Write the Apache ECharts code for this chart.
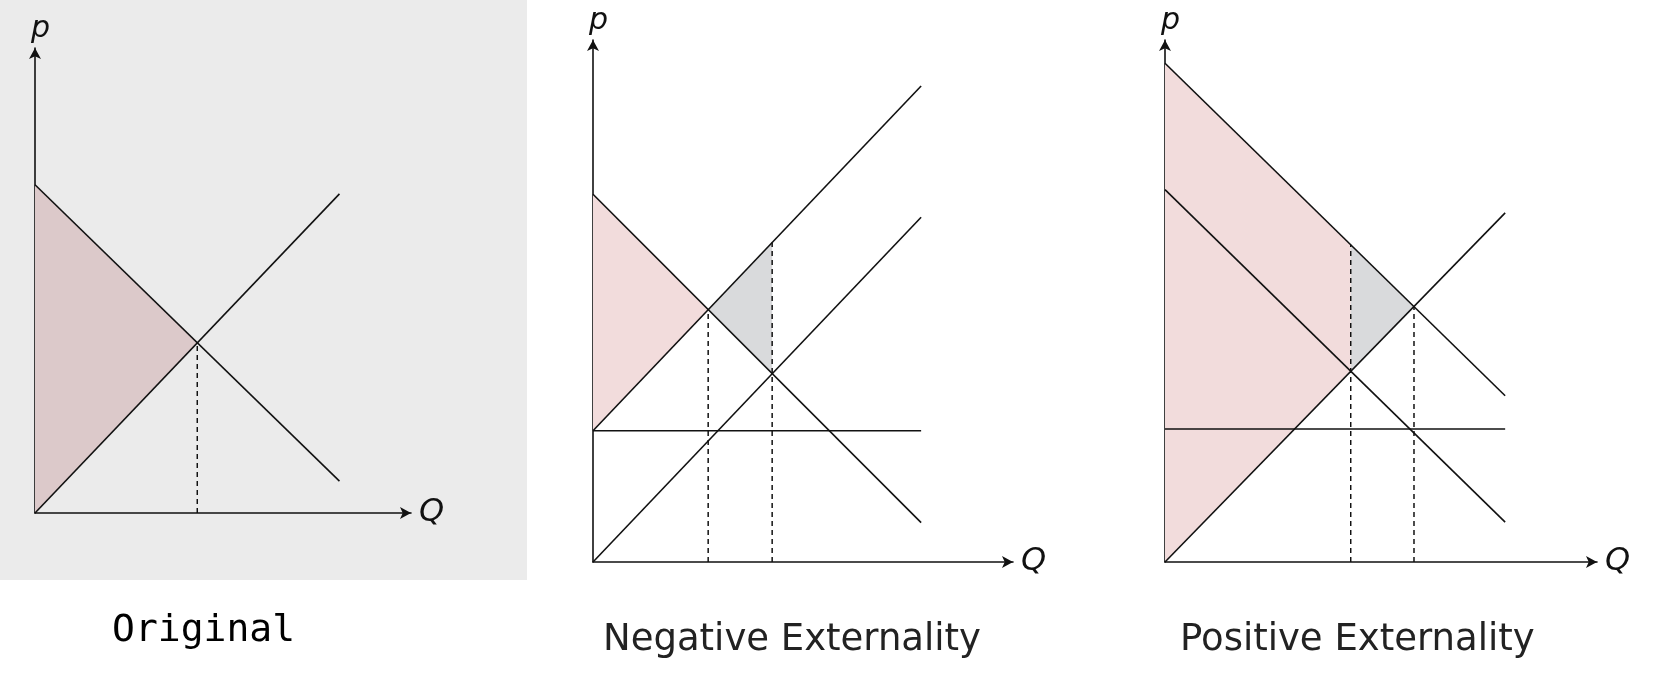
<!DOCTYPE html>
<html><head><meta charset="utf-8">
<script src="https://cdn.jsdelivr.net/npm/echarts@6/dist/echarts.min.js"></script>
<style>html,body{margin:0;padding:0;background:#fff}#c{width:1676px;height:675px}</style>
</head><body><div id="c"></div>
<script>
// ---- Panel 1 (Original) ----
const o_MB = [[0,10.8],[10,1.05]];
const o_MC = [[0,0],[10,10.5]];
const o_Qstar = [[5.33,0],[5.33,5.6]];
const o_surplus = [[0,10.8],[5.33,5.6],[0,0]];
// ---- Panel 2 (Negative) ----
const n_MC = [[0,4],[10,14.5]];
const n_MCPr = [[0,0],[10,10.5]];
const n_MCEx = [[0,4],[10,4]];
const n_MB = [[0,11.2],[10,1.2]];
const n_QE = [[3.51,0],[3.51,7.69]];
const n_Qstar = [[5.46,0],[5.46,9.73]];
const n_surplus = [[0,11.2],[3.51,7.69],[0,4]];
const n_WL = [[3.51,7.69],[5.46,9.73],[5.46,5.74]];
const n_WLlabel = [4.35,7.75];
// ---- Panel 3 (Positive) ----
const p_MB = [[0,15],[10,5]];
const p_MBPr = [[0,11.2],[10,1.2]];
const p_MBEx = [[0,4],[10,4]];
const p_MC = [[0,0],[10,10.5]];
const p_Qstar = [[5.46,0],[5.46,9.54]];
const p_QE = [[7.32,0],[7.32,7.68]];
const p_surplus = [[0,15],[5.46,9.54],[5.46,5.74],[0,0]];
const p_WL = [[5.46,9.54],[7.32,7.68],[5.46,5.74]];
const p_WLlabel = [6.25,7.75];
const titles = ['Original','Negative Externality','Positive Externality'];

const FONT = 'DejaVu Sans';
const rich = {
  m:{fontFamily:FONT,fontStyle:'italic',fontSize:29,color:'#111',lineHeight:36},
  r:{fontFamily:FONT,fontSize:29,color:'#111',lineHeight:36},
  s:{fontFamily:FONT,fontStyle:'italic',fontSize:19,color:'#111',padding:[16,0,0,0],lineHeight:36},
  t:{fontFamily:FONT,fontSize:18,color:'#111',padding:[0,0,14,0],lineHeight:36}
};
function lbl(main, sub){
  return sub ? '{m|'+main+'}{s|'+sub+'}{r|(}{m|Q}{r|)}' : '{m|'+main+'}{r|(}{m|Q}{r|)}';
}
const grids = [
  {left:35, top:48, width:376, height:465},
  {left:593, top:40, width:420, height:522},
  {left:1165, top:40, width:432, height:522}
];
const xmax=[12.35,12.8,12.7], ymax=[15.3,15.9,15.7];
const xAxis=[], yAxis=[];
for(let i=0;i<3;i++){
  xAxis.push({type:'value',gridIndex:i,min:0,max:xmax[i],splitLine:{show:false},axisTick:{show:false},axisLabel:{show:false},
    axisLine:{show:true,onZero:false,lineStyle:{color:'#111',width:1.6},symbol:['none','arrow'],symbolSize:[9,11]},
    name:'Q',nameGap:8,nameTextStyle:{fontFamily:FONT,fontStyle:'italic',fontSize:32,color:'#111',verticalAlign:'middle'}});
  yAxis.push({type:'value',gridIndex:i,min:0,max:ymax[i],splitLine:{show:false},axisTick:{show:false},axisLabel:{show:false},
    axisLine:{show:true,onZero:false,lineStyle:{color:'#111',width:1.6},symbol:['none','arrow'],symbolSize:[9,11]},
    name:'p',nameGap:4,nameTextStyle:{fontFamily:FONT,fontStyle:'italic',fontSize:30,color:'#111',align:'left',padding:[0,0,0,-4]}});
}
function poly(i, pts, color){
  return {type:'custom',xAxisIndex:i,yAxisIndex:i,z:1,silent:true,data:[0],
    renderItem:(p,api)=>({type:'polygon',shape:{points:pts.map(q=>api.coord(q))},style:{fill:color}})};
}
function textAt(i, pos, text, position, dist){
  return {type:'scatter',xAxisIndex:i,yAxisIndex:i,symbolSize:1,itemStyle:{opacity:0},z:5,silent:true,data:[{value:pos}],
    label:{show:true,position:position,distance:dist,formatter:text,rich:rich}};
}
function line(i, pts, text){
  const s=[{type:'line',xAxisIndex:i,yAxisIndex:i,data:pts,symbol:'none',z:3,silent:true,
    lineStyle:{color:'#111',width:1.6}}];
  if(text) s.push(textAt(i, pts[pts.length-1], text, 'right', 10));
  return s;
}
function dash(i, pts, text){
  return [{type:'line',xAxisIndex:i,yAxisIndex:i,data:pts,symbol:'none',z:3,silent:true,
    lineStyle:{color:'#111',width:1.5,type:[5,4]}}, textAt(i, pts[0], text, 'bottom', 2)];
}
function wl(i,pos){
  return {type:'scatter',xAxisIndex:i,yAxisIndex:i,symbolSize:1,itemStyle:{opacity:0},z:4,data:[{value:pos}],
    label:{show:true,position:'inside',formatter:'WL',fontFamily:FONT,fontStyle:'italic',fontSize:20,color:'#333'}};
}
const QSTAR='{m|Q}{t|*}', QE='{m|Q}{s|E}';
const series=[].concat(
  poly(0,o_surplus,'#dcc9ca'),
  line(0,o_MB,lbl('MB')), line(0,o_MC,lbl('MC','Pr')), dash(0,o_Qstar,QSTAR),
  poly(1,n_surplus,'#f2dcdc'), poly(1,n_WL,'#d9dadc'),
  line(1,n_MC,lbl('MC')), line(1,n_MCPr,lbl('MC','Pr')), line(1,n_MCEx,lbl('MC','Ex')), line(1,n_MB,lbl('MB')),
  dash(1,n_QE,QE), dash(1,n_Qstar,QSTAR), wl(1,n_WLlabel),
  poly(2,p_surplus,'#f2dcdc'), poly(2,p_WL,'#d9dadc'),
  line(2,p_MB,lbl('MB')), line(2,p_MBPr,lbl('MB','Pr')), line(2,p_MBEx,lbl('MB','Ex')), line(2,p_MC,lbl('MC')),
  dash(2,p_Qstar,QSTAR), dash(2,p_QE,QE), wl(2,p_WLlabel)
);
const chart = echarts.init(document.getElementById('c'));
chart.setOption({
  animation:false,
  graphic:[
    {type:'rect',z:-10,shape:{x:0,y:0,width:527,height:580},style:{fill:'#ebebeb'}},
    {type:'text',left:112,top:612,style:{text:titles[0],font:'38px "DejaVu Sans Mono"',fill:'#000'}},
    {type:'text',left:603,top:622,style:{text:titles[1],font:'37px "DejaVu Sans"',fill:'#222'}},
    {type:'text',left:1180,top:622,style:{text:titles[2],font:'37px "DejaVu Sans"',fill:'#222'}}
  ],
  grid:grids, xAxis:xAxis, yAxis:yAxis, series:series
});
</script></body></html>
